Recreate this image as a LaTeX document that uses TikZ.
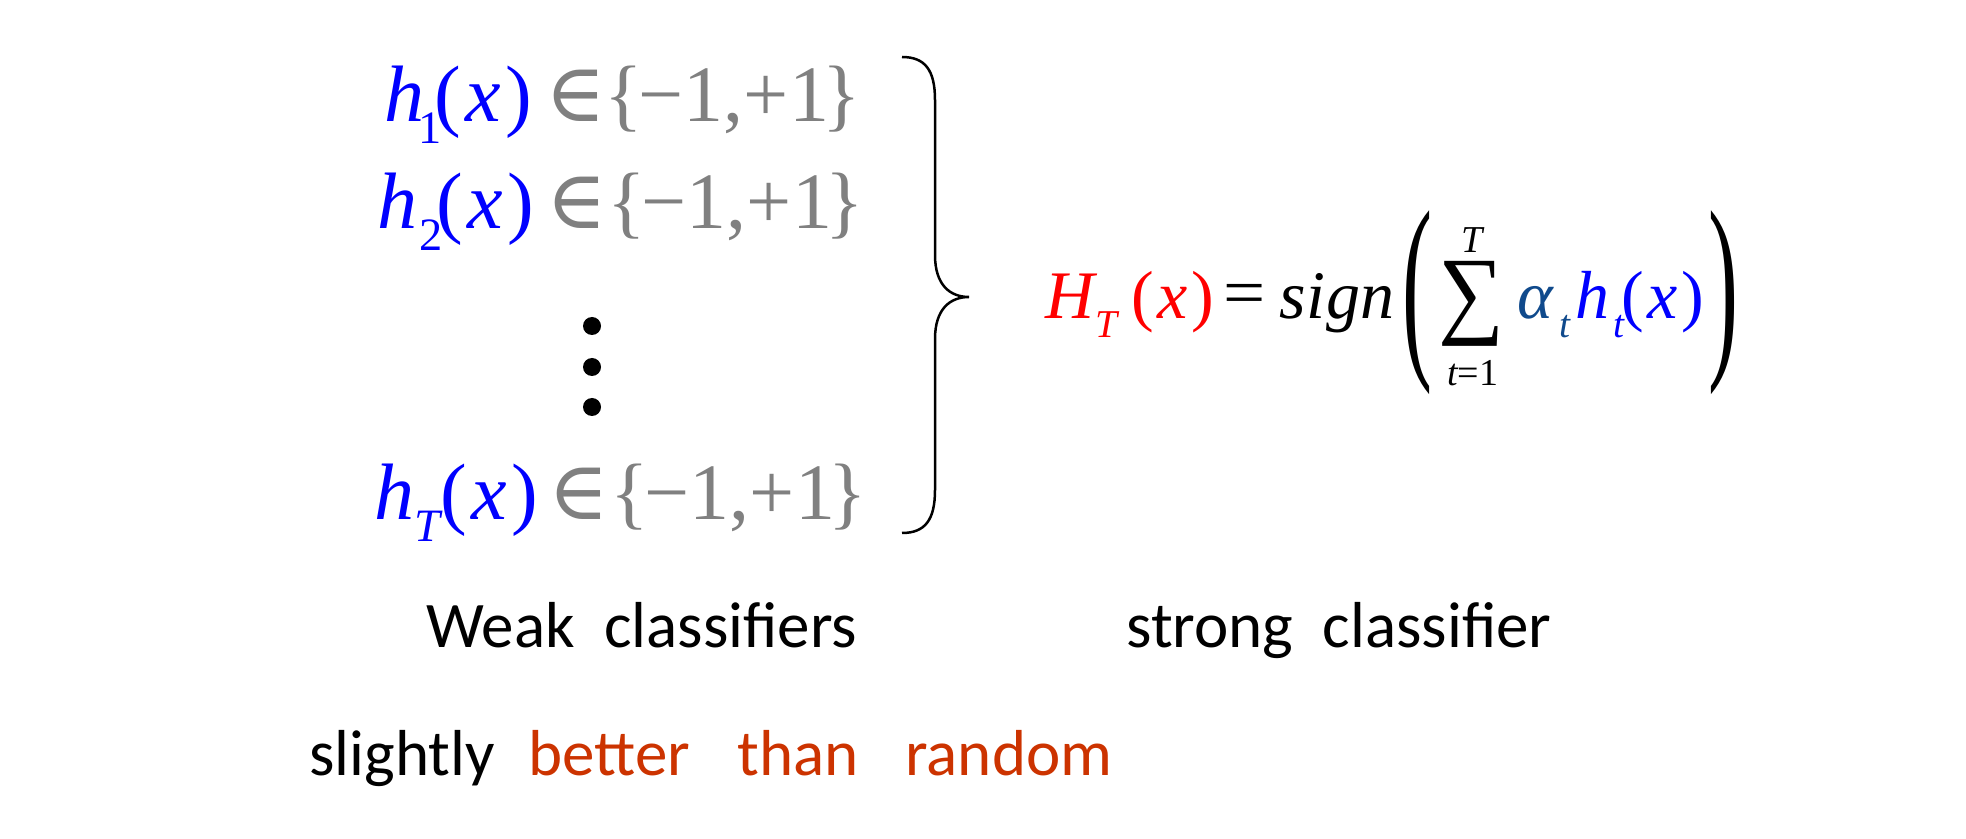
\documentclass[tikz,border=0pt]{standalone}
\usepackage{fontspec}
\setmainfont{Liberation Serif}
\newfontfamily\tnr{Liberation Serif}
\newfontfamily\djs{DejaVu Serif}
\newfontfamily\calib{Carlito}
\usepackage{graphicx}
\definecolor{hblue}{RGB}{0,0,255}
\definecolor{setgray}{RGB}{128,128,128}
\definecolor{hred}{RGB}{255,0,0}
\definecolor{alphablue}{RGB}{16,74,140}
\definecolor{orred}{RGB}{204,51,0}
% subscript: #1 kern, #2 text
\newcommand\lowsub[2]{\kern#1\raisebox{-0.27em}{\scalebox{0.58}{#2}}}
\newcommand\parx{(\kern0.05em{\itshape x}\kern0.06em)}
\newcommand\pmset{\{\kern-0.05em−1,+1\kern-0.08em\}}
\tikzset{
  rowtext/.style={anchor=base west,inner sep=0pt,font=\tnr\fontsize{40pt}{44pt}\selectfont},
  formula/.style={anchor=base west,inner sep=0pt,font=\tnr\fontsize{34pt}{38pt}\selectfont},
  limit/.style={anchor=center,inner sep=0pt,font=\tnr\fontsize{19pt}{21pt}\selectfont},
  glyph/.style={anchor=center,inner sep=0pt,font=\tnr},
  elem/.style={anchor=base,inner sep=0pt,font=\djs\fontsize{41pt}{44pt}\selectfont,text=setgray},
  label/.style={anchor=base west,inner sep=0pt,font=\calib\fontsize{32.5pt}{38pt}\selectfont},
  bracepath/.style={line width=1.25pt},
  dotmark/.style={fill=black,draw=none}
}
\begin{document}
\begin{tikzpicture}[x=0.5pt,y=-0.5pt]
\useasboundingbox (0,0) rectangle (1966,839);
% ---- weak classifier rows ----
% row 1
\node[rowtext,text=hblue] (h1) at (384,122) {{\itshape h}\lowsub{-0.07em}{1}};
\node[rowtext,text=hblue] (x1) at (434,122) {\parx};
\node[elem] (in1) at (576,122) {∈};
\node[rowtext,text=setgray] (s1) at (604,122) {\pmset};
% row 2
\node[rowtext,text=hblue] (h2) at (377,229) {{\itshape h}\lowsub{0.02em}{2}};
\node[rowtext,text=hblue] (x2) at (436,229) {\parx};
\node[elem] (in2) at (577,229) {∈};
\node[rowtext,text=setgray] (s2) at (607,229) {\pmset};
% row T
\node[rowtext,text=hblue] (hT) at (374,520) {{\itshape h}\lowsub{0em}{\itshape T}};
\node[rowtext,text=hblue] (xT) at (440,520) {\parx};
\node[elem] (inT) at (579,520) {∈};
\node[rowtext,text=setgray] (sT) at (610,520) {\pmset};
% vertical dots
\fill[dotmark] (592,326) circle (9);
\fill[dotmark] (592,367) circle (9);
\fill[dotmark] (592,407) circle (9);
% big brace
\draw[bracepath] (902,57) .. controls (925,57) and (935,70) .. (935,100)
  -- (935,255) .. controls (935,285) and (950,297) .. (969,297)
  .. controls (950,297) and (935,309) .. (935,339)
  -- (935,490) .. controls (935,520) and (925,533) .. (902,533);
% ---- strong classifier formula ----
\node[formula,text=hred] (H) at (1045,319) {{\itshape H}\lowsub{0.02em}{\itshape T}};
\node[formula,text=hred] (Hx) at (1131,319) {\parx};
\node[glyph,font=\tnr\fontsize{34pt}{38pt}\selectfont] (eq) at (1245,300) {\scalebox{1.1}[1]{=}};
\node[formula] (sign) at (1279,319) {\itshape s\kern0.01em i\kern0.01em g\kern0.01em n};
\node[glyph] (lp) at (1417.5,302.5) {\resizebox*{15pt}{92pt}{(}};
\node[glyph] (sum) at (1471,303.5) {\resizebox*{33pt}{42.5pt}{∑}};
\node[limit] (top) at (1472.5,240) {\itshape T};
\node[limit] (bot) at (1472.5,373) {{\itshape t}=1};
\node[formula,text=alphablue] (al) at (1517,319) {{\itshape α}\lowsub{0.1em}{\itshape t}};
\node[formula,text=hblue] (ht) at (1575,319) {{\itshape h}\lowsub{0.06em}{\itshape t}};
\node[formula,text=hblue] (htx) at (1621,319) {\parx};
\node[glyph] (rp) at (1723,302.5) {\resizebox*{15pt}{92pt}{)}};
% ---- labels ----
\node[label] (weak) at (426,647) {Weak\ \ classifiers};
\node[label] (strong) at (1126,647) {strong\ \ classifier};
\node[label] (sl) at (309,775) {slightly};
\node[label,text=orred] (better) at (528,775) {better};
\node[label,text=orred] (than) at (737,775) {than};
\node[label,text=orred] (random) at (905,775) {random};
\end{tikzpicture}
\end{document}
